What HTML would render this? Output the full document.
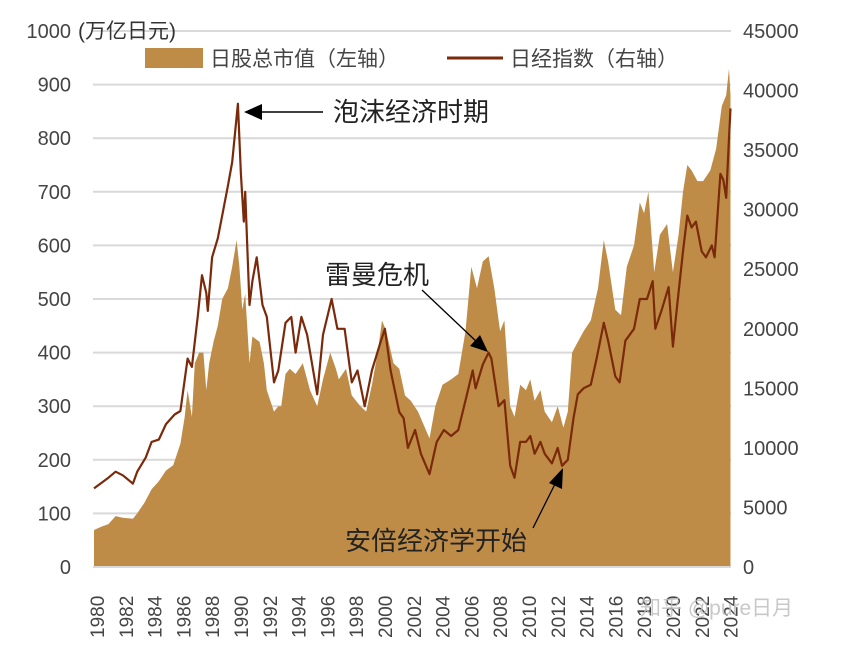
<!DOCTYPE html>
<html><head><meta charset="utf-8">
<style>
body{margin:0;background:#fff;}
svg{display:block;font-family:"Liberation Sans","Noto Sans CJK SC",sans-serif;}
</style></head>
<body>
<svg id="chart" width="844" height="647" viewBox="0 0 844 647">
<g id="grid"></g>
<g id="marks"></g>
<g id="axes"></g>
<text x="78" y="38" font-size="21" fill="#333">(万亿日元)</text>
<g>
<rect x="145" y="48" width="58" height="20" fill="#bf8c47"/>
<text x="210" y="66" font-size="21" fill="#444">日股总市值（左轴）</text>
<line x1="447" y1="58" x2="503" y2="58" stroke="#7a2a0a" stroke-width="3"/>
<text x="510" y="66" font-size="21" fill="#444">日经指数（右轴）</text>
</g>
<g>
<text x="333" y="121" font-size="26" fill="#222">泡沫经济时期</text>
<line x1="323" y1="112" x2="260" y2="112" stroke="#000" stroke-width="1.5"/>
<polygon points="244,112 262,104 262,120" fill="#000"/>
<text x="325" y="284" font-size="26" fill="#222">雷曼危机</text>
<line x1="422" y1="290" x2="478" y2="343" stroke="#000" stroke-width="1.3"/>
<polygon points="488,352 470,346 480,335" fill="#000"/>
<text x="345" y="550" font-size="26" fill="#222">安倍经济学开始</text>
<line x1="533" y1="528" x2="556" y2="482" stroke="#000" stroke-width="1.3"/>
<polygon points="563,468 562,489 549,483" fill="#000"/>
</g>
<text x="640" y="615" font-size="21" fill="#bbb" opacity="0.8">知乎 @pure日月</text>
</svg>
<script>
const capYears=[1980,1980.5,1981,1981.5,1982,1982.7,1983,1983.5,1984,1984.5,1985,1985.5,1986,1986.3,1986.5,1986.8,1987,1987.3,1987.6,1987.8,1988,1988.3,1988.6,1988.9,1989.3,1989.6,1989.9,1990.1,1990.3,1990.5,1990.8,1991,1991.5,1991.8,1992,1992.5,1992.8,1993,1993.3,1993.6,1994,1994.5,1995,1995.5,1995.9,1996.4,1996.8,1997,1997.5,1997.9,1998.5,1998.9,1999.3,1999.7,2000,2000.3,2000.8,2001.2,2001.6,2002,2002.5,2003.3,2003.7,2004.2,2004.8,2005.3,2005.8,2006.2,2006.6,2007,2007.4,2007.8,2008.2,2008.5,2008.9,2009.2,2009.6,2010,2010.3,2010.6,2011,2011.3,2011.8,2012.2,2012.6,2012.9,2013.2,2013.6,2014,2014.5,2015,2015.4,2015.7,2016.2,2016.6,2017,2017.5,2017.9,2018.2,2018.5,2018.9,2019.3,2019.8,2020.2,2020.6,2020.9,2021.2,2021.5,2021.9,2022.3,2022.8,2023.2,2023.6,2023.9,2024.1,2024.2];
const capValues=[69,75,80,95,92,90,100,120,145,160,180,190,230,280,330,280,380,400,400,330,380,420,450,500,520,560,610,560,480,510,380,430,420,380,330,290,300,300,360,370,360,380,330,300,350,400,370,350,370,320,300,290,340,400,460,440,380,370,320,310,290,240,300,340,350,360,440,560,520,570,580,520,440,460,300,280,340,330,350,310,330,290,270,300,260,290,400,420,440,460,520,610,570,480,470,560,600,680,660,700,550,620,640,550,620,700,750,740,720,720,740,780,860,880,930,880];
const nkYears=[1980,1981,1981.5,1982,1982.7,1983,1983.6,1984,1984.5,1985,1985.6,1986,1986.5,1986.8,1987.2,1987.5,1987.8,1987.9,1988.2,1988.6,1988.9,1989.3,1989.6,1989.99,1990.2,1990.4,1990.5,1990.8,1991,1991.3,1991.7,1992,1992.5,1992.8,1993.3,1993.7,1994,1994.4,1994.8,1995.5,1995.9,1996.5,1996.9,1997.4,1997.9,1998.3,1998.8,1999.3,1999.9,2000.2,2000.6,2001.2,2001.5,2001.8,2002.3,2002.7,2003.3,2003.8,2004.3,2004.8,2005.3,2005.9,2006.3,2006.5,2007,2007.4,2007.6,2008.1,2008.5,2008.9,2009.2,2009.6,2010,2010.3,2010.6,2011,2011.3,2011.8,2012.2,2012.5,2012.9,2013.3,2013.6,2014,2014.5,2014.9,2015.4,2015.7,2016.2,2016.5,2016.9,2017.5,2017.9,2018.4,2018.8,2018.98,2019.4,2019.9,2020.2,2020.5,2020.9,2021.2,2021.5,2021.8,2022.2,2022.5,2022.9,2023.1,2023.5,2023.7,2023.9,2024.1,2024.2];
const nkValues=[6600,7500,8000,7700,7000,8000,9200,10500,10700,12000,12800,13100,17500,16800,21000,24500,23000,21500,26000,27600,29500,32000,34000,38900,33000,29000,31500,22000,24000,26000,22000,21000,15500,16500,20500,21000,18000,21000,19500,14500,19500,22500,20000,20000,15500,16500,13500,16500,18900,20000,16500,13000,12500,10000,11500,9500,7800,10500,11500,11000,11500,14500,16500,15000,17000,18000,17500,13500,14000,8500,7500,10500,10500,11000,9500,10500,9500,8700,10000,8500,9000,12500,14500,15000,15300,17500,20500,19000,16000,15500,19000,20000,22500,22500,24000,20000,21500,23500,18500,22000,26500,29500,28500,29000,26500,26000,27000,26000,33000,32500,31000,36000,38500];
const leftTicks=[0,100,200,300,400,500,600,700,800,900,1000];
const rightTicks=[0,5000,10000,15000,20000,25000,30000,35000,40000,45000];
const yearTicks=[1980,1982,1984,1986,1988,1990,1992,1994,1996,1998,2000,2002,2004,2006,2008,2010,2012,2014,2016,2018,2020,2022,2024];

const NS='http://www.w3.org/2000/svg';
const X0=94,PX=14.4,Y0=567,H=536;
const xs=y=>X0+(y-1980)*PX;
const yl=v=>Y0-v/1000*H;
const yr=v=>Y0-v/45000*H;
function mk(tag,attrs,parent){const e=document.createElementNS(NS,tag);for(const k in attrs)e.setAttribute(k,attrs[k]);parent.appendChild(e);return e;}
const grid=document.getElementById('grid'),marks=document.getElementById('marks'),axes=document.getElementById('axes');
leftTicks.forEach(t=>{
  if(t>0){const g=mk('line',{x1:93,x2:731,y1:yl(t),y2:yl(t),stroke:'#d9d9d9','stroke-width':2},grid);
  
  }
  const tx=mk('text',{x:71,y:yl(t)+7,'text-anchor':'end','font-size':20,fill:'#444'},axes);
  tx.textContent=t;
  
  
});
rightTicks.forEach(t=>{
  const tx=mk('text',{x:743,y:yr(t)+7,'font-size':20,fill:'#444'},axes);
  tx.textContent=t;
  
  
});
yearTicks.forEach(t=>{
  const x=xs(t)+3;
  const tx=mk('text',{x:0,y:0,'font-size':19,fill:'#444',transform:`translate(${x+7},638) rotate(-90)`},axes);
  tx.textContent=t;
  
  
});
const base=mk('line',{x1:93,x2:731,y1:Y0,y2:Y0,stroke:'#d9d9d9','stroke-width':2},axes);


let d=`M${xs(capYears[0])},${Y0}`;
capYears.forEach((y,i)=>{d+=` L${xs(y).toFixed(1)},${yl(capValues[i]).toFixed(1)}`;});
d+=` L${xs(capYears[capYears.length-1])},${Y0} Z`;
const area=mk('path',{d:d,fill:'#bf8c47'},marks);


let d2='';
nkYears.forEach((y,i)=>{d2+=(i?' L':'M')+xs(y).toFixed(1)+','+yr(nkValues[i]).toFixed(1);});
const line=mk('path',{d:d2,fill:'none',stroke:'#7a2a0a','stroke-width':2.2,'stroke-linejoin':'round'},marks);


</script>
</body></html>
